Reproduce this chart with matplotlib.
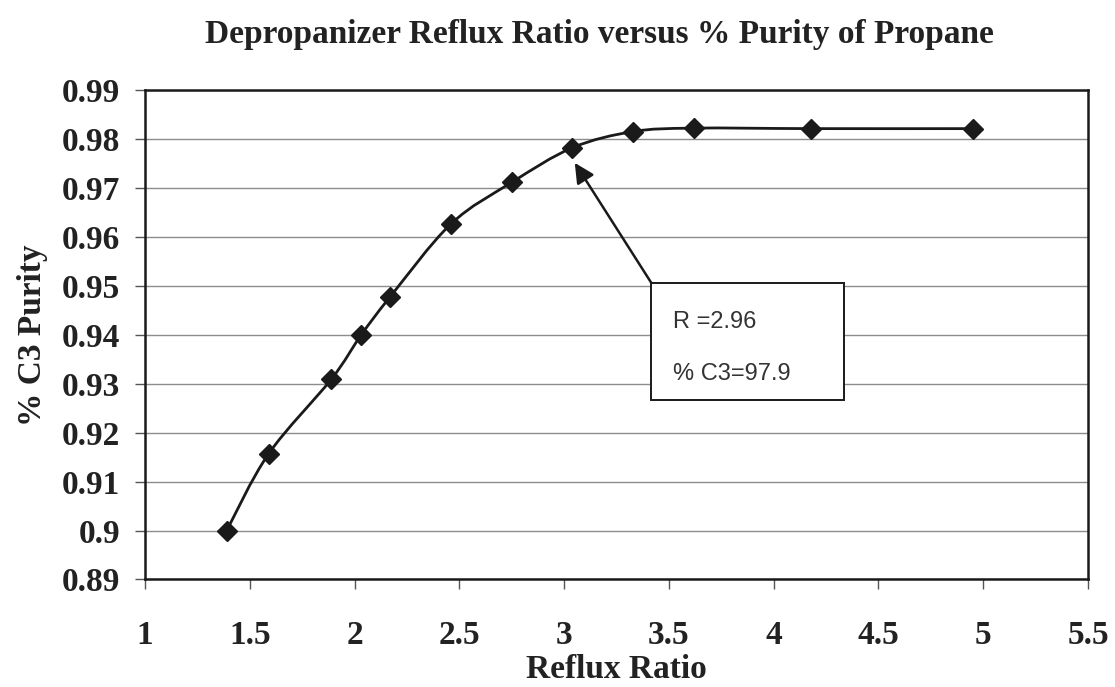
import numpy as np
import matplotlib
matplotlib.use('Agg')
import matplotlib.pyplot as plt
from matplotlib.path import Path
from matplotlib.patches import PathPatch, Rectangle

# data
reflux = [1.39, 1.59, 1.89, 2.03, 2.17, 2.46, 2.75, 3.04, 3.33, 3.62, 4.18, 4.95]
purity = [0.900, 0.9157, 0.9310, 0.9399, 0.9478, 0.9627, 0.9712, 0.9783,
          0.9816, 0.9823, 0.9822, 0.9822]
xticks = [1, 1.5, 2, 2.5, 3, 3.5, 4, 4.5, 5, 5.5]
yticks = [0.89, 0.90, 0.91, 0.92, 0.93, 0.94, 0.95, 0.96, 0.97, 0.98, 0.99]
xtick_labels = ['1', '1.5', '2', '2.5', '3', '3.5', '4', '4.5', '5', '5.5']
ytick_labels = ['0.89', '0.9', '0.91', '0.92', '0.93', '0.94', '0.95',
                '0.96', '0.97', '0.98', '0.99']
note_lines = ['R =2.96', '% C3=97.9']


def smooth_path(x, y):
    """Excel-like smoothed line as cubic Bezier segments through the points."""
    p = np.column_stack([x, y])
    n = len(p)
    verts = [p[0]]
    codes = [Path.MOVETO]
    for i in range(n - 1):
        p0 = p[i - 1] if i > 0 else p[i]
        p1, p2 = p[i], p[i + 1]
        p3 = p[i + 2] if i + 2 < n else p[i + 1]
        verts += [p1 + (p2 - p0) / 6., p2 - (p3 - p1) / 6., p2]
        codes += [Path.CURVE4] * 3
    return Path(verts, codes)


serif = ['Liberation Serif', 'DejaVu Serif']
sans = ['Liberation Sans', 'DejaVu Sans']

fig = plt.figure(figsize=(11.15, 6.87), dpi=100)
ax = fig.add_axes([0.130, 0.1565, 0.8458, 0.7118])

ax.set_xlim(1, 5.5)
ax.set_ylim(0.89, 0.99)

ax.set_yticks(yticks)
ax.set_xticks(xticks)
ax.yaxis.grid(True, color='#8c8c8c', lw=1.0)
ax.set_axisbelow(True)

# smoothed line + diamond markers
ax.add_patch(PathPatch(smooth_path(reflux, purity), facecolor='none',
                       edgecolor='#1a1a1a', lw=2.0, zorder=3))
ax.plot(reflux, purity, ls='none', marker='D', ms=10,
        mfc='#1a1a1a', mec='#1a1a1a', zorder=4)

for s in ax.spines.values():
    s.set_linewidth(1.8)
    s.set_color('#1a1a1a')

ax.tick_params(axis='both', direction='out', length=7, width=1.0,
               color='#555555')
ax.tick_params(axis='y', pad=11)
ax.tick_params(axis='x', pad=22)
ax.set_xticklabels(xtick_labels, fontsize=24, fontweight='bold', family=serif,
                   color='#222222')
ax.set_yticklabels(ytick_labels, fontsize=24, fontweight='bold', family=serif,
                   color='#222222')

ax.set_xlabel('Reflux Ratio', fontsize=24, fontweight='bold', family=serif,
              color='#222222', labelpad=2)
ax.set_ylabel('% C3 Purity', fontsize=24, fontweight='bold', family=serif,
              color='#222222', labelpad=10)

fig.text(0.538, 0.950, 'Depropanizer Reflux Ratio versus % Purity of Propane',
         ha='center', va='center', fontsize=24, fontweight='bold',
         family=serif, color='#222222')

# annotation box with arrow
bx0, by0, bx1, by1 = 3.417, 0.9267, 4.338, 0.9506
ax.add_patch(Rectangle((bx0, by0), bx1 - bx0, by1 - by0, facecolor='white',
                       edgecolor='#1a1a1a', lw=1.4, zorder=5))
ax.text(3.518, 0.9427, note_lines[0], fontsize=17, family=sans,
        color='#333333', va='center', ha='left', zorder=6)
ax.text(3.518, 0.9320, note_lines[1], fontsize=17, family=sans,
        color='#333333', va='center', ha='left', zorder=6)
ax.annotate('', xy=(3.051, 0.9752), xytext=(bx0, by1),
            arrowprops=dict(arrowstyle='-|>', mutation_scale=30, lw=1.8,
                            color='#1a1a1a', shrinkA=0, shrinkB=0),
            zorder=6)

fig.savefig('out.png', dpi=100)
